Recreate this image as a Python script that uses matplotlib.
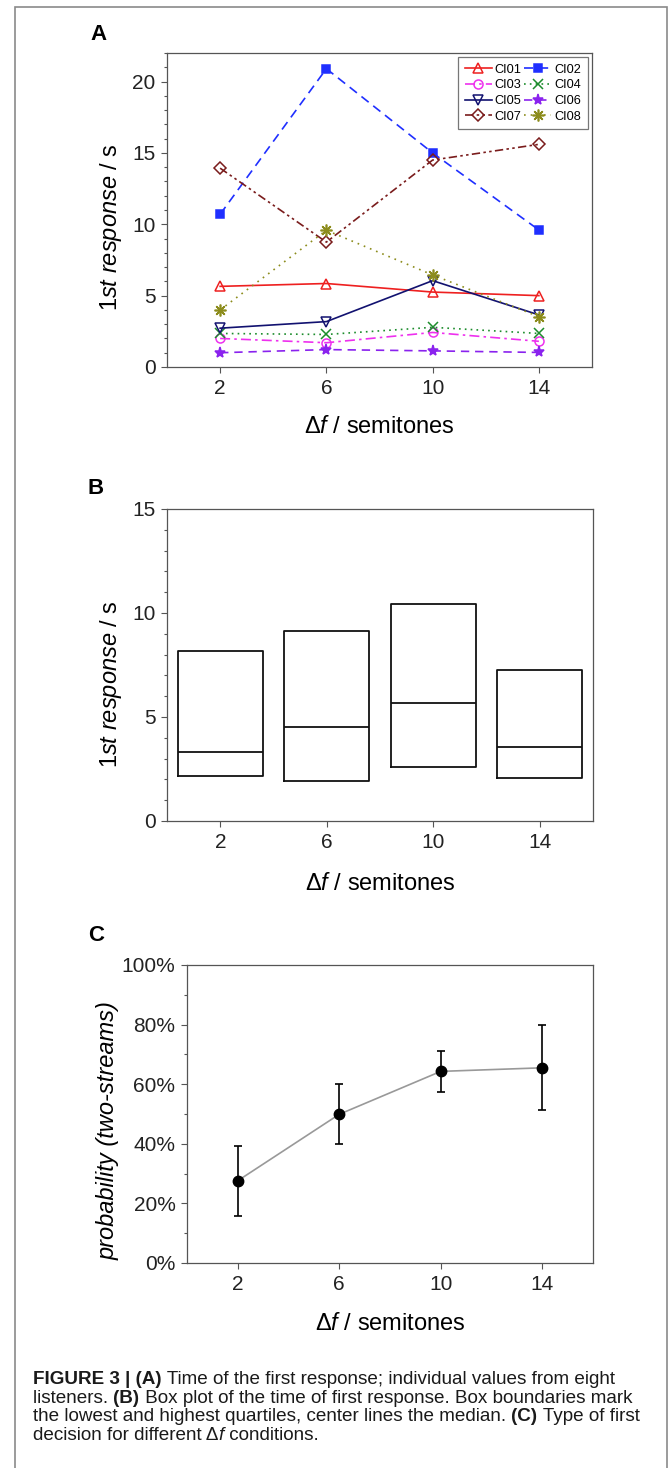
import numpy as np
import matplotlib
matplotlib.use("Agg")
import matplotlib.pyplot as plt
from matplotlib.patches import Rectangle
from matplotlib.ticker import MultipleLocator, FuncFormatter
from matplotlib.offsetbox import TextArea, HPacker, AnnotationBbox

plt.rcParams['font.family'] = ['Liberation Sans', 'DejaVu Sans']
plt.rcParams['mathtext.fontset'] = 'custom'
plt.rcParams['mathtext.rm'] = 'Liberation Sans'
plt.rcParams['mathtext.it'] = 'Liberation Sans:italic'
plt.rcParams['mathtext.bf'] = 'Liberation Sans:bold'

# data
df = [2, 6, 10, 14]

listeners = ['CI01', 'CI02', 'CI03', 'CI04', 'CI05', 'CI06', 'CI07', 'CI08']
ci01 = [5.65, 5.85, 5.25, 5.0]
ci02 = [10.7, 20.9, 15.0, 9.6]
ci03 = [2.0, 1.7, 2.42, 1.8]
ci04 = [2.35, 2.28, 2.78, 2.35]
ci05 = [2.72, 3.18, 6.05, 3.65]
ci06 = [1.0, 1.22, 1.13, 1.02]
ci07 = [13.93, 8.75, 14.5, 15.6]
ci08 = [4.0, 9.58, 6.45, 3.53]

box_q1 = [2.17, 1.94, 2.58, 2.05]
box_med = [3.34, 4.52, 5.66, 3.58]
box_q3 = [8.15, 9.14, 10.43, 7.27]

prob = [27.6, 49.9, 64.3, 65.5]
prob_lo = [15.9, 40.0, 57.4, 51.2]
prob_hi = [39.4, 59.9, 71.3, 79.8]

W, H = 670, 1468
fig = plt.figure(figsize=(W / 100, H / 100), dpi=100)

spine_col = '#555555'
tick_fs = 15
label_fs = 17


def px_axes(l, t, r, b):
    return fig.add_axes([l / W, 1 - b / H, (r - l) / W, (b - t) / H])


def style_axes(ax):
    for s in ax.spines.values():
        s.set_color(spine_col)
        s.set_linewidth(0.9)
    ax.tick_params(axis='both', which='major', direction='out', length=4.3,
                   width=0.8, color=spine_col, labelsize=tick_fs,
                   labelcolor='#222222', pad=4)
    ax.tick_params(axis='y', which='minor', direction='out', length=2.3,
                   width=0.8, color=spine_col)
    ax.set_xlim(0, 16)
    ax.set_xticks(df)


# outer frame
fig.patches.append(Rectangle((15 / W, -0.01), 652 / W, 1.01 - 7 / H,
                             transform=fig.transFigure, fill=False,
                             edgecolor='#8a8a8a', linewidth=1.2))

xlab = 'Δ$\\mathit{f}$ / semitones'
ylab = '1$\\mathit{st\\ response}$ / s'

# ---- panel A
axA = px_axes(167, 53, 592, 367)
style_axes(axA)
axA.set_ylim(0, 22)
axA.yaxis.set_major_locator(MultipleLocator(5))
axA.yaxis.set_minor_locator(MultipleLocator(1))

styles = {
    'CI01': dict(color='#ee2020', ls='-', marker='^', mfc='none', ms=7),
    'CI02': dict(color='#1f2fff', ls=(0, (5.5, 3.5)), marker='s', mfc='#1f2fff', ms=5.5),
    'CI03': dict(color='#ee30ee', ls=(0, (6, 2.5, 1.5, 2.5)), marker='o', mfc='none', ms=6.5),
    'CI04': dict(color='#1c8c2c', ls=(0, (1, 2.5)), marker='x', mfc='none', ms=6.5, mew=1.1),
    'CI05': dict(color='#121270', ls='-', marker='v', mfc='none', ms=7),
    'CI06': dict(color='#8a22ee', ls=(0, (5, 3.5)), marker='*', mfc='#8a22ee', ms=8),
    'CI07': dict(color='#7a1c1c', ls=(0, (5, 2, 1.5, 2, 1.5, 2)), marker='D', mfc='none', ms=6),
    'CI08': dict(color='#8c8c1c', ls=(0, (1, 3)), marker=(8, 2, 0), mfc='none', ms=8.5, mew=1.2),
}
values = [ci01, ci02, ci03, ci04, ci05, ci06, ci07, ci08]
handles = {}
for name, vals in zip(listeners, values):
    st = dict(styles[name])
    mew = st.pop('mew', 1.1)
    h, = axA.plot(df, vals, lw=1.2, mew=mew, mec=st['color'], label=name, **st)
    handles[name] = h

order = ['CI01', 'CI03', 'CI05', 'CI07', 'CI02', 'CI04', 'CI06', 'CI08']
leg = axA.legend([handles[k] for k in order], order, ncol=2, loc='upper right',
                 fontsize=9.2, handlelength=2.1, handletextpad=0.25,
                 columnspacing=0.2, labelspacing=0.28, borderpad=0.5,
                 borderaxespad=0.35, fancybox=False, framealpha=1)
leg.get_frame().set_edgecolor('#777777')
leg.get_frame().set_linewidth(0.9)

axA.set_xlabel(xlab, fontsize=label_fs)
axA.set_ylabel(ylab, fontsize=label_fs)
axA.xaxis.set_label_coords(0.5, -0.156)
axA.yaxis.set_label_coords(-0.101, 0.446)

# ---- panel B
axB = px_axes(167, 509, 593, 821)
style_axes(axB)
axB.set_ylim(0, 15)
axB.yaxis.set_major_locator(MultipleLocator(5))
axB.yaxis.set_minor_locator(MultipleLocator(1))
stats = [dict(q1=a, med=m, q3=c, whislo=a, whishi=c, fliers=[])
         for a, m, c in zip(box_q1, box_med, box_q3)]
lp = dict(color='#111111', linewidth=1.3)
axB.bxp(stats, positions=df, widths=3.2, showcaps=False, showfliers=False,
        boxprops=lp, medianprops=lp, whiskerprops=lp, manage_ticks=False)
axB.set_xticks(df)
axB.set_xlabel(xlab, fontsize=label_fs)
axB.set_ylabel(ylab, fontsize=label_fs)
axB.xaxis.set_label_coords(0.5, -0.167)
axB.yaxis.set_label_coords(-0.101, 0.439)

# ---- panel C
axC = px_axes(187, 965, 593, 1263)
style_axes(axC)
axC.set_ylim(0, 100)
axC.yaxis.set_major_locator(MultipleLocator(20))
axC.yaxis.set_minor_locator(MultipleLocator(10))
axC.yaxis.set_major_formatter(FuncFormatter(lambda v, p: f'{v:.0f}%'))
axC.plot(df, prob, color='#999999', lw=1.2, zorder=2)
err = [np.array(prob) - np.array(prob_lo), np.array(prob_hi) - np.array(prob)]
axC.errorbar(df, prob, yerr=err, fmt='o', color='black', ms=7.5, elinewidth=1.2,
             capsize=3.2, capthick=1.2, zorder=3)
axC.set_xlabel(xlab, fontsize=label_fs)
axC.set_ylabel('probability (two-streams)', fontsize=label_fs, fontstyle='italic')
axC.xaxis.set_label_coords(0.5, -0.168)
axC.yaxis.set_label_coords(-0.167, 0.443)

# panel letters
for letter, x, y in [('A', 98, 35), ('B', 96, 488), ('C', 96, 935)]:
    fig.text(x / W, 1 - y / H, letter, fontsize=16, fontweight='bold',
             ha='center', va='center')

# caption
cap_font = ['Liberation Sans']
cap_fs = 13.6
reg = dict(family=cap_font, fontsize=cap_fs, color='#1a1a1a')
bold = dict(family=cap_font, fontsize=cap_fs, fontweight='bold', color='#1a1a1a')
ital = dict(family=cap_font, fontsize=cap_fs, fontstyle='italic', color='#1a1a1a')
caption_lines = [
    [('FIGURE 3 | (A)', bold), (' Time of the first response; individual values from eight', reg)],
    [('listeners. ', reg), ('(B)', bold), (' Box plot of the time of first response. Box boundaries mark', reg)],
    [('the lowest and highest quartiles, center lines the median. ', reg), ('(C)', bold), (' Type of first', reg)],
    [('decision for different Δ', reg), ('f', ital), (' conditions.', reg)],
]
for i, parts in enumerate(caption_lines):
    box = HPacker(children=[TextArea(t, textprops=p) for t, p in parts],
                  pad=0, sep=0, align='baseline')
    ab = AnnotationBbox(box, (33, H - 1371 - i * 18.7), xycoords='figure pixels',
                        box_alignment=(0, 1), frameon=False, pad=0)
    fig.add_artist(ab)

fig.savefig('out.png', dpi=100)
